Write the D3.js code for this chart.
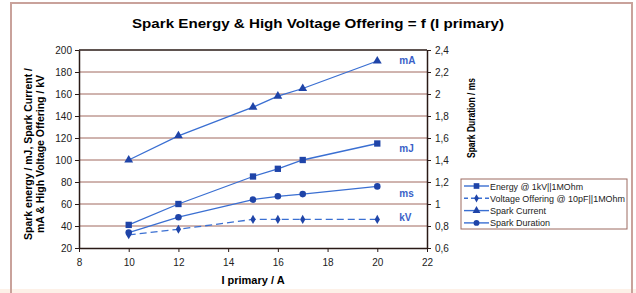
<!DOCTYPE html>
<html>
<head>
<meta charset="utf-8">
<script src="https://cdn.jsdelivr.net/npm/d3@7"></script>
<style>
  body { margin: 0; background: #fff; }
  svg text { font-family: "Liberation Sans", Arial, sans-serif; }
</style>
</head>
<body>
<div id="chart"></div>
<script>
// values
const current = [10, 12, 15, 16, 17, 20];
const energy = [41, 60, 85, 92, 100, 115];
const voltage = [32, 37, 46, 46, 46, 46];
const sparkCurrent = [100, 122, 148, 158, 165, 190];
const duration = [0.74, 0.88, 1.04, 1.07, 1.09, 1.16];
const xTicks = [8, 10, 12, 14, 16, 18, 20, 22];
const leftTicks = [20, 40, 60, 80, 100, 120, 140, 160, 180, 200];
const rightTicks = [0.6, 0.8, 1, 1.2, 1.4, 1.6, 1.8, 2, 2.2, 2.4];

const W = 636, H = 293;
const plot = {left: 79, right: 427, top: 50, bottom: 248};

const svg = d3.select("#chart").append("svg")
    .attr("width", W)
    .attr("height", H);

// outer frame
svg.append("rect").attr("x", 0).attr("y", 289).attr("width", W).attr("height", 4).attr("fill", "#fdf1e8");
svg.append("path")
    .attr("d", `M11,${H} V3 H632 V${H}`)
    .attr("fill", "none")
    .attr("stroke", "#c9a29b")
    .attr("stroke-width", 2);

const x = d3.scaleLinear().domain([8, 22]).range([plot.left, plot.right]);
const yL = d3.scaleLinear().domain([20, 200]).range([plot.bottom, plot.top]);
const yR = d3.scaleLinear().domain([0.6, 2.4]).range([plot.bottom, plot.top]);

// gridlines
svg.append("g")
    .selectAll("line")
    .data(leftTicks.slice(1, -1))
    .enter().append("line")
    .attr("x1", plot.left).attr("x2", plot.right)
    .attr("y1", d => yL(d)).attr("y2", d => yL(d))
    .attr("stroke", "#a0685e")
    .attr("stroke-width", 1);

svg.append("line")
    .attr("x1", plot.left).attr("x2", plot.right)
    .attr("y1", plot.top).attr("y2", plot.top)
    .attr("stroke", "#2a1a16").attr("stroke-width", 1.3);

// axes
function styleAxis(g) {
    g.select(".domain").attr("stroke", "#2a1a16").attr("stroke-width", 1.5);
    g.selectAll(".tick line").attr("stroke", "#2a1a16");
    g.selectAll("text").attr("font-size", 10).attr("fill", "#222");
}

svg.append("g")
    .attr("transform", `translate(0,${plot.bottom})`)
    .call(d3.axisBottom(x).tickValues(xTicks).tickSize(4).tickSizeOuter(0).tickPadding(7))
    .call(styleAxis);

svg.append("g")
    .attr("transform", `translate(${plot.left},0)`)
    .call(d3.axisLeft(yL).tickValues(leftTicks).tickSize(4).tickSizeOuter(0).tickPadding(3))
    .call(styleAxis);

svg.append("g")
    .attr("transform", `translate(${plot.right},0)`)
    .call(d3.axisRight(yR).tickValues(rightTicks).tickSize(4).tickSizeOuter(0).tickPadding(4)
        .tickFormat(d => String(+d.toFixed(1)).replace(".", ",")))
    .call(styleAxis);

// titles
svg.append("text")
    .attr("x", 318).attr("y", 28)
    .attr("text-anchor", "middle")
    .attr("font-size", 13.5).attr("font-weight", "bold")
    .attr("textLength", 372).attr("lengthAdjust", "spacingAndGlyphs")
    .text("Spark Energy & High Voltage Offering = f (I primary)");

svg.append("text")
    .attr("x", 253).attr("y", 284)
    .attr("text-anchor", "middle")
    .attr("font-size", 11).attr("font-weight", "bold")
    .text("I primary / A");

const yLab = svg.append("text")
    .attr("transform", "translate(32,154) rotate(-90)")
    .attr("text-anchor", "middle")
    .attr("font-size", 10.5).attr("font-weight", "bold");
yLab.append("tspan").attr("x", 0).attr("dy", 0)
    .attr("textLength", 172).attr("lengthAdjust", "spacingAndGlyphs")
    .text("Spark energy / mJ, Spark Current /");
yLab.append("tspan").attr("x", 0).attr("dy", 12)
    .attr("textLength", 158).attr("lengthAdjust", "spacingAndGlyphs")
    .text("mA & High Voltage Offering / kV");

svg.append("text")
    .attr("transform", "translate(475,118) rotate(-90)")
    .attr("text-anchor", "middle")
    .attr("font-size", 10).attr("font-weight", "bold")
    .attr("textLength", 80).attr("lengthAdjust", "spacingAndGlyphs")
    .text("Spark Duration / ms");

// series
const lineCol = "#3a6fd2", markCol = "#1f44a8";
const series = [
    {name: "Energy @ 1kV||1MOhm", values: energy, y: yL, shape: d3.symbolSquare, size: 40, dash: null, tag: "mJ", dy: 8.5, len: 93},
    {name: "Voltage Offering @ 10pF||1MOhm", values: voltage, y: yL, shape: d3.symbolDiamond, size: 24, dash: "7,4", tag: "kV", dy: 2, len: 135},
    {name: "Spark Current", values: sparkCurrent, y: yL, shape: d3.symbolTriangle, size: 34, dash: null, tag: "mA", dy: 3, len: 56},
    {name: "Spark Duration", values: duration, y: yR, shape: d3.symbolCircle, size: 34, dash: null, tag: "ms", dy: 11, len: 60}
];

series.forEach(s => {
    const pts = current.map((c, i) => [c, s.values[i]]);
    svg.append("path")
        .datum(pts)
        .attr("fill", "none")
        .attr("stroke", lineCol)
        .attr("stroke-width", 1.3)
        .attr("stroke-dasharray", s.dash)
        .attr("d", d3.line().x(d => x(d[0])).y(d => s.y(d[1])));
    svg.selectAll(null)
        .data(pts)
        .enter().append("path")
        .attr("transform", d => `translate(${x(d[0])},${s.y(d[1])})`)
        .attr("d", d3.symbol().type(s.shape).size(s.size))
        .attr("fill", markCol);
    const last = pts[pts.length - 1];
    svg.append("text")
        .attr("x", x(last[0]) + 22)
        .attr("y", s.y(last[1]) + s.dy)
        .attr("font-size", 10).attr("font-weight", "bold")
        .attr("fill", "#3a5fc8")
        .text(s.tag);
});

// legend
const lg = svg.append("g").attr("transform", "translate(461,179)");
lg.append("rect")
    .attr("width", 166).attr("height", 50)
    .attr("fill", "#fff")
    .attr("stroke", "#9c6a60").attr("stroke-width", 1);
series.forEach((s, i) => {
    const row = lg.append("g").attr("transform", `translate(0,${7 + i * 12.3})`);
    row.append("line")
        .attr("x1", 3).attr("x2", 28)
        .attr("stroke", lineCol).attr("stroke-width", 1.4)
        .attr("stroke-dasharray", s.dash ? "4,3" : null);
    row.append("path")
        .attr("transform", "translate(15.5,0)")
        .attr("d", d3.symbol().type(s.shape).size(s.size * 0.8))
        .attr("fill", markCol);
    row.append("text")
        .attr("x", 29).attr("y", 3.5)
        .attr("font-size", 9.5)
        .attr("fill", "#222")
        .attr("textLength", s.len).attr("lengthAdjust", "spacingAndGlyphs")
        .text(s.name);
});
</script>
</body>
</html>
